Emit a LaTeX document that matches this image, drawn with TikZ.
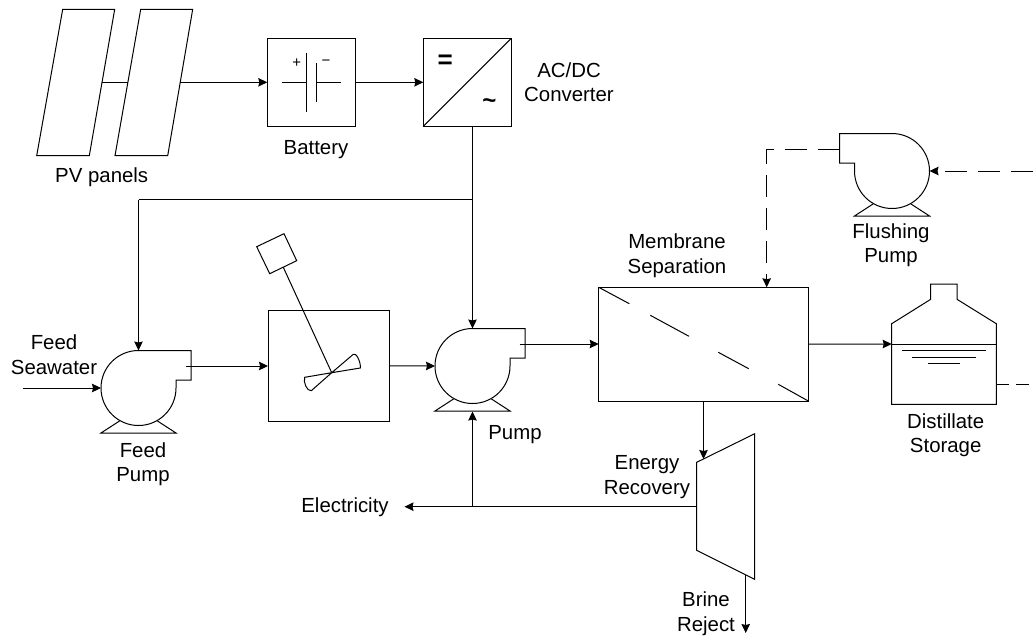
\documentclass[tikz,border=0pt]{standalone}
\usepackage{fontspec}
\setmainfont{Liberation Sans}
\usetikzlibrary{arrows.meta}
\tikzset{
  x=1pt,y=-1pt,
  every path/.style={line width=1pt},
  wire/.style={draw,-{Stealth[length=9pt,width=8.5pt,inset=1pt]}},
  plain/.style={draw},
  dashwire/.style={draw,dash pattern=on 22pt off 11pt},
  dashtip/.style={dashwire,-{Stealth[length=9pt,width=8.5pt,inset=1pt]}},
  unit/.style={draw,inner sep=0pt,outer sep=0pt,line width=1pt},
  lbl/.style={inner sep=0pt,outer sep=0pt,align=center,yshift=-2.2pt,font=\fontsize{20.4}{24.5}\selectfont},
  pumpicon/.pic={
    \draw (37.5,-8) -- (37.5,0) arc[start angle=0,end angle=270,radius=37.5] -- (52.5,-37.5) -- (52.5,-8) -- cycle;
    \draw (-19,33) -- (-37.5,45) -- (37.5,45) -- (19,33);
    \coordinate (-top) at (0,-37.5);
    \coordinate (-left) at (-37.5,0);
    \coordinate (-right) at (37.5,0);
    \coordinate (-base) at (0,45.5);
    \coordinate (-out) at (47,-22);
    \coordinate (-edge) at (52.5,-22);
  }
}
\begin{document}
\begin{tikzpicture}
\useasboundingbox (0,0) rectangle (1033,637);

% PV panels
\draw (62.7,9.3) -- (114.7,9.3) -- (89.3,155.7) -- (36.7,155.7) -- cycle;
\draw (140.7,9.3) -- (192.7,9.3) -- (167.7,155.7) -- (115,155.7) -- cycle;
\coordinate (pv1r) at (101.7,82.3);
\coordinate (pv2l) at (127.7,82.3);
\coordinate (pv2r) at (180,82.3);
\node[lbl] (pvlabel) at (101.7,175.2) {PV panels};

% Battery
\node[unit,minimum width=88pt,minimum height=88pt] (battery) at (311.3,82.3) {};
\draw (282,82.3) -- (306.7,82.3) (306.7,52.7) -- (306.7,112);
\draw (316.3,63.3) -- (316.3,102.3) (316.3,82.3) -- (340.7,82.3);
\node[inner sep=0pt,font=\fontsize{15}{15}\selectfont] (bplus) at (296.7,63.3) {+};
\node[inner sep=0pt,font=\fontsize{15}{15}\selectfont] (bminus) at (326,63) {−};
\node[lbl] (batlabel) at (316,147.7) {Battery};

% Converter
\node[unit,minimum width=88pt,minimum height=88pt] (conv) at (467.3,82.3) {};
\draw (conv.south west) -- (conv.north east);
\node[inner sep=0pt,font=\fontsize{26}{26}\selectfont\bfseries] (eqsign) at (445.3,61.7) {=};
\node[inner sep=0pt,font=\fontsize{24}{24}\selectfont\bfseries] (tilde) at (489.3,103.3) {\char`\~};
\node[lbl] (convlabel) at (569,80) {AC/DC\\Converter};
\coordinate (convout) at (472.5,126.3);
\coordinate (j1) at (472.5,199.7);

% Pumps
\pic (fp) at (138.5,388) {pumpicon};
\pic (pp) at (472.5,366) {pumpicon};
\pic[xscale=-1] (fl) at (892,171) {pumpicon};
\node[lbl] (feedlabel) at (54,352.5) {Feed\\Seawater};
\node[lbl] (fplabel) at (143,462) {Feed\\Pump};
\node[lbl] (pumplabel) at (515,432) {Pump};
\node[lbl] (fllabel) at (891,243) {Flushing\\Pump};
\coordinate (feedin) at (22.7,388);
\coordinate (j2) at (138.5,199.7);

% Mixer
\node[unit,minimum width=121.7pt,minimum height=111.7pt] (mixer) at (328.85,365.85) {};
\coordinate (hub) at (331.7,372.7);
\draw (284,233.7) -- (296.7,260.7) -- (269.7,273.7) -- (256.7,246.7) -- cycle;
\coordinate (shaft) at (283.3,267.3);
\draw (shaft) -- (hub);
\draw (hub) -- (353.3,354.3) .. controls (356,352) and (361,362) .. (360.3,368) -- (hub);
\draw (hub) -- (311.3,390.7) .. controls (307,391.5) and (303,382) .. (304.7,377.3) -- (hub);

% Membrane
\node[unit,minimum width=209.6pt,minimum height=113.7pt] (memb) at (703.5,344.15) {};
\draw (598.7,287.3) -- (629.3,303.7) (650.3,315.3) -- (689,336.3) (718.3,352.3) -- (748.7,368.7) (778.3,384.3) -- (808.3,401);
\node[lbl] (memblabel) at (677,253.5) {Membrane\\Separation};
\coordinate (membtop) at (766.7,287.3);
\coordinate (flcorner) at (766.7,149);

% Turbine
\draw (696.7,462.3) -- (754.7,433.7) -- (754.7,579.3) -- (696.7,550.3) -- cycle;
\coordinate (turbtop) at (703.5,459);
\coordinate (turbleft) at (696.7,506.7);
\coordinate (turbout) at (745.7,574.8);
\coordinate (brineend) at (745.7,633);
\coordinate (j3) at (472.5,506.7);
\coordinate (electip) at (404.5,506.7);
\node[lbl] (enlabel) at (647,475) {Energy\\Recovery};
\node[lbl] (brlabel) at (706,611.5) {Brine\\Reject};
\node[lbl] (eleclabel) at (345,505) {Electricity};

% Tank
\draw (891.7,404.3) -- (891.7,323.7) -- (930.7,299.3) -- (930.7,284) -- (957,284) -- (957,299.3) -- (996.3,323.7) -- (996.3,404.3) -- cycle;
\coordinate (tankin) at (891.7,344);
\coordinate (tankr) at (996.3,344);
\draw (tankin) -- (tankr);
\draw (901.7,350.3) -- (986,350.3) (912.3,357) -- (975.7,357) (928,363.7) -- (960,363.7);
\node[lbl] (tanklabel) at (945.7,433) {Distillate\\Storage};
\coordinate (tankout) at (996.3,384.3);
\coordinate (edgeout) at (1033,384.3);
\coordinate (edgein) at (1033,171);

% Connectors
\draw (pv1r) -- (pv2l);
\draw[wire] (pv2r) -- (battery.west);
\draw[wire] (battery.east) -- (conv.west);
\draw (convout) -- (j1);
\draw[wire] (j1) -- (pp-top);
\draw (j1) -- (j2);
\draw[wire] (j2) -- (fp-top);
\draw[wire] (feedin) -- (fp-left);
\draw[wire] (fp-out) -- (fp-out -| mixer.west);
\draw[wire] (mixer.east) -- (pp-left);
\draw[wire] (pp-out) -- (pp-out -| memb.west);
\draw[wire] (memb.east) -- (tankin);
\draw[wire] (memb.south) -- (turbtop);
\draw (turbleft) -- (j3);
\draw[wire] (j3) -- (electip);
\draw[wire] (j3) -- (pp-base);
\draw[wire] (turbout) -- (brineend);
\draw[dashtip] (edgein) -- (fl-left);
\draw[dashtip] (fl-edge) -- (flcorner) -- (membtop);
\draw[dash pattern=on 13pt off 7pt] (tankout) -- (edgeout);
\end{tikzpicture}
\end{document}
